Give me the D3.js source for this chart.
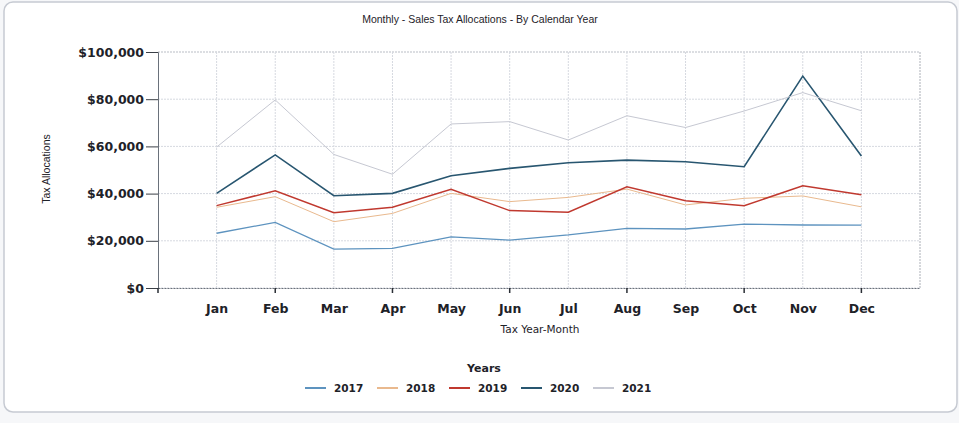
<!DOCTYPE html>
<html>
<head>
<meta charset="utf-8">
<script src="https://cdn.jsdelivr.net/npm/d3@7"></script>
<style>
  body { margin: 0; background: #f6f7f9; }
  svg { display: block; }
</style>
</head>
<body>
<div id="chart"></div>
<script>
// chart data
const months = ['Jan', 'Feb', 'Mar', 'Apr', 'May', 'Jun', 'Jul', 'Aug', 'Sep', 'Oct', 'Nov', 'Dec'];
const years = ['2017', '2018', '2019', '2020', '2021'];
const v2017 = [23200, 27800, 16500, 16800, 21700, 20300, 22500, 25300, 25000, 27100, 26700, 26600];
const v2018 = [34200, 38700, 28100, 31600, 40100, 36600, 38400, 41900, 35200, 38000, 39000, 34400];
const v2019 = [34900, 41200, 31900, 34200, 41800, 32800, 32100, 42900, 37000, 34900, 43300, 39500];
const v2020 = [40100, 56400, 39100, 40100, 47600, 50700, 53100, 54200, 53500, 51400, 89800, 55900];
const v2021 = [59700, 79700, 56600, 48200, 69500, 70500, 62700, 73000, 68000, 75000, 82800, 75100];
const yTicks = [0, 20000, 40000, 60000, 80000, 100000];

const seriesValues = [v2017, v2018, v2019, v2020, v2021];
const colors = ['#5d93bf', '#e9b98e', '#c0392f', '#285670', '#c6c8d2'];
const widths = [1.3, 1, 1.5, 1.6, 1];

const W = 959, H = 423;
const margin = {top: 52, left: 158, right: 39, bottom: 135};

const svg = d3.select('#chart').append('svg')
  .attr('width', W)
  .attr('height', H);

// card background
svg.append('rect')
  .attr('x', 4).attr('y', 2)
  .attr('width', W - 6).attr('height', 410)
  .attr('rx', 9)
  .attr('fill', '#ffffff')
  .attr('stroke', '#c6cad2')
  .attr('stroke-width', 1.5);

const x = d3.scaleLinear()
  .domain([0, months.length + 1])
  .range([margin.left, W - margin.right]);
const y = d3.scaleLinear()
  .domain([0, 100000])
  .range([H - margin.bottom, margin.top]);

// grid
const grid = svg.append('g');
grid.selectAll('line.h')
  .data(yTicks)
  .enter().append('line')
  .attr('x1', x(0)).attr('x2', x(13))
  .attr('y1', d => y(d)).attr('y2', d => y(d))
  .attr('stroke', d => d === 100000 ? '#b9bdc5' : '#d6d9e0')
  .attr('stroke-dasharray', '2,1');
grid.selectAll('line.v')
  .data(d3.range(1, 14))
  .enter().append('line')
  .attr('x1', d => x(d)).attr('x2', d => x(d))
  .attr('y1', y(0)).attr('y2', y(100000))
  .attr('stroke', d => d === 13 ? '#acb0b8' : '#d6d9e0')
  .attr('stroke-dasharray', '2,1');

// axes
const yAxis = d3.axisLeft(y)
  .tickValues(yTicks)
  .tickSize(12)
  .tickFormat(d => '$' + d3.format(',')(d));
const gy = svg.append('g')
  .attr('transform', `translate(${margin.left},0)`)
  .call(yAxis);
gy.select('.domain').attr('stroke', '#6a717b');
gy.selectAll('.tick line').attr('stroke', '#3a3f46');
gy.selectAll('text')
  .attr('x', -14)
  .attr('fill', '#1e2228')
  .style('font-family', 'Verdana, "DejaVu Sans", sans-serif')
  .style('font-size', '12.5px')
  .style('font-weight', 'bold');

const xAxis = d3.axisBottom(x)
  .tickValues(d3.range(1, 13))
  .tickSize(0)
  .tickFormat(d => months[d - 1]);
const gx = svg.append('g')
  .attr('transform', `translate(0,${y(0)})`)
  .call(xAxis);
gx.select('.domain').attr('stroke', '#6a717b').attr('stroke-dasharray', '2,1');
gx.selectAll('text')
  .attr('dy', 0)
  .attr('y', 25)
  .attr('fill', '#1e2228')
  .style('font-family', 'Verdana, "DejaVu Sans", sans-serif')
  .style('font-size', '12.5px')
  .style('font-weight', 'bold');
// small tick marks on every other month
svg.append('g').selectAll('line')
  .data([0, 2, 4, 6, 8, 10, 12])
  .enter().append('line')
  .attr('x1', d => x(d)).attr('x2', d => x(d))
  .attr('y1', y(0)).attr('y2', y(0) + 5)
  .attr('stroke', '#2a2e35')
  .attr('stroke-width', 1.5);

// lines
const line = d3.line()
  .x((d, i) => x(i + 1))
  .y(d => y(d));
svg.append('g').selectAll('path')
  .data(seriesValues)
  .enter().append('path')
  .attr('d', d => line(d))
  .attr('fill', 'none')
  .attr('stroke', (d, i) => colors[i])
  .attr('stroke-width', (d, i) => widths[i]);

// titles
svg.append('text')
  .attr('x', 480).attr('y', 23)
  .attr('text-anchor', 'middle')
  .style('font-family', 'Arial, "Liberation Sans", sans-serif')
  .style('font-size', '10.5px')
  .attr('fill', '#1e2228')
  .text('Monthly - Sales Tax Allocations - By Calendar Year');

svg.append('text')
  .attr('transform', 'translate(50,169) rotate(-90)')
  .attr('text-anchor', 'middle')
  .style('font-family', 'Arial, "Liberation Sans", sans-serif')
  .style('font-size', '10.5px')
  .attr('fill', '#1e2228')
  .text('Tax Allocations');

svg.append('text')
  .attr('x', 540).attr('y', 333)
  .attr('text-anchor', 'middle')
  .style('font-family', 'Tahoma, "DejaVu Sans", sans-serif')
  .style('font-size', '10.5px')
  .attr('fill', '#1e2228')
  .text('Tax Year-Month');

// legend
svg.append('text')
  .attr('x', 484).attr('y', 372)
  .attr('text-anchor', 'middle')
  .style('font-family', 'Verdana, "DejaVu Sans", sans-serif')
  .style('font-size', '11px')
  .style('font-weight', 'bold')
  .attr('fill', '#1e2228')
  .text('Years');

const legend = svg.append('g').selectAll('g')
  .data(years)
  .enter().append('g')
  .attr('transform', (d, i) => `translate(${305 + i * 72},388)`);
legend.append('line')
  .attr('x1', 0).attr('x2', 21)
  .attr('stroke', (d, i) => colors[i])
  .attr('stroke-width', 2);
legend.append('text')
  .attr('x', 29).attr('y', 4)
  .style('font-family', 'Verdana, "DejaVu Sans", sans-serif')
  .style('font-size', '10.5px')
  .style('font-weight', 'bold')
  .attr('fill', '#1e2228')
  .text(d => d);
</script>
</body>
</html>
